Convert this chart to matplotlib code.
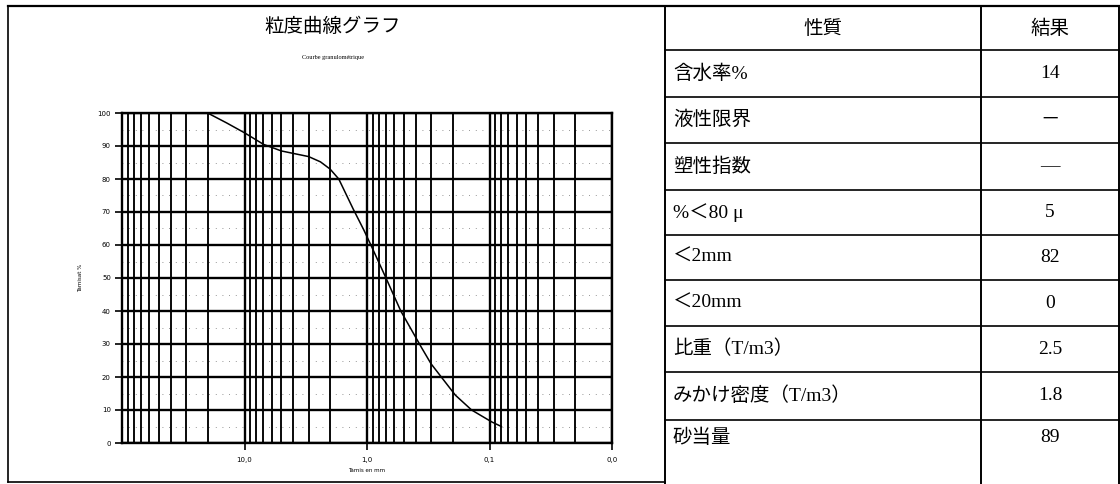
import matplotlib
matplotlib.use("Agg")
import matplotlib.pyplot as plt
from matplotlib.ticker import FixedLocator, LogLocator, NullFormatter

# Grain size distribution: sieve opening (mm) vs. cumulative passing (%)
sieve_mm = [20.0, 14.0, 10.0, 7.0, 5.0, 3.0, 2.4, 2.0, 1.7, 1.3, 1.06, 0.93,
            0.70, 0.53, 0.36, 0.30, 0.19, 0.14, 0.096, 0.08]
passing_pct = [100, 97, 94, 90.5, 88.5, 86.8, 85.2, 83, 80, 71, 64.5, 60,
               50, 40, 29, 24, 14.5, 10, 6.4, 5]

x_ticks = [10.0, 1.0, 0.1, 0.01]
x_tick_labels = ["10,0", "1,0", "0,1", "0,0"]
y_ticks = list(range(0, 101, 10))

# Soil properties table
properties = ["性質", "含水率%", "液性限界", "塑性指数", "%＜80 μ", "＜2mm",
              "＜20mm", "比重（T/m3）", "みかけ密度（T/m3）", "砂当量"]
results = ["結果", "14", "－", "—", "5", "82", "0", "2.5", "1.8", "89"]

W, H = 1120, 484
fig = plt.figure(figsize=(W / 100, H / 100), dpi=100)

# Page-level frame (pixel coordinates)
frame = fig.add_axes([0, 0, 1, 1])
frame.set_xlim(0, W)
frame.set_ylim(H, 0)
frame.axis("off")
frame.patch.set_alpha(0)

cjk = ["Noto Sans CJK JP", "DejaVu Sans"]
serif_cjk = ["Liberation Serif", "Noto Sans CJK JP"]

# outer borders
frame.plot([8, W - 1], [6, 6], color="black", lw=1.6)
frame.plot([8, 8], [6, 482], color="black", lw=1.2)
frame.plot([8, 665], [482, 482], color="black", lw=1.2)
frame.plot([665, 665], [6, H], color="black", lw=1.4)
frame.plot([981, 981], [6, H], color="black", lw=1.4)
frame.plot([W - 1, W - 1], [6, H], color="black", lw=1.4)

row_edges = [6, 50, 97, 143, 190, 235, 280, 326, 372, 420]
for y in row_edges[1:]:
    frame.plot([665, W - 1], [y, y], color="black", lw=1.2)

for i, (prop, res) in enumerate(zip(properties, results)):
    top = row_edges[i]
    if i + 1 < len(row_edges):
        yc = (top + row_edges[i + 1]) / 2
    else:
        yc = top + 18
    if i == 0:
        frame.text(823, yc, prop, ha="center", va="center", fontsize=14,
                   family=cjk)
        frame.text(1050, yc, res, ha="center", va="center", fontsize=14,
                   family=cjk)
    else:
        frame.text(673, yc, prop, ha="left", va="center", fontsize=14,
                   family=serif_cjk)
        frame.text(1050, yc, res, ha="center", va="center", fontsize=14,
                   family=serif_cjk)

# Chart titles
frame.text(333, 26, "粒度曲線グラフ", ha="center", va="center", fontsize=14,
           family=cjk)
frame.text(333, 58, "Courbe granulométrique", ha="center", va="center",
           fontsize=4.5, family="Liberation Serif")

# Grading curve
ax = fig.add_axes([122 / W, (H - 443) / H, (612 - 122) / W, (443 - 113) / H])
ax.set_xscale("log")
ax.set_xlim(100, 0.01)
ax.set_ylim(0, 100)

ax.xaxis.set_major_locator(FixedLocator(x_ticks))
ax.set_xticks(x_ticks)
ax.set_xticklabels(x_tick_labels)
ax.xaxis.set_minor_locator(LogLocator(base=10, subs=range(2, 10)))
ax.xaxis.set_minor_formatter(NullFormatter())
ax.set_yticks(y_ticks)
ax.set_yticklabels([str(v) for v in y_ticks])

ax.tick_params(axis="both", which="major", labelsize=5, length=5, width=1.2,
               color="black", pad=3)
ax.tick_params(axis="x", which="minor", length=0)
ax.tick_params(axis="x", which="major", pad=5)

ax.grid(True, which="major", axis="both", color="black", lw=1.7)
ax.grid(True, which="minor", axis="x", color="black", lw=1.35)
for v in range(5, 100, 10):
    ax.axhline(v, color="0.45", lw=0.6, ls=(0, (1, 7)), zorder=1)

for sp in ax.spines.values():
    sp.set_linewidth(1.7)
    sp.set_color("black")

ax.plot(sieve_mm, passing_pct, color="black", lw=1.1, zorder=5)

ax.set_xlabel("Tamis en mm", fontsize=4, labelpad=4)
ax.set_ylabel("Tamisat %", fontsize=4, labelpad=10)

fig.savefig("out.png", dpi=100)
